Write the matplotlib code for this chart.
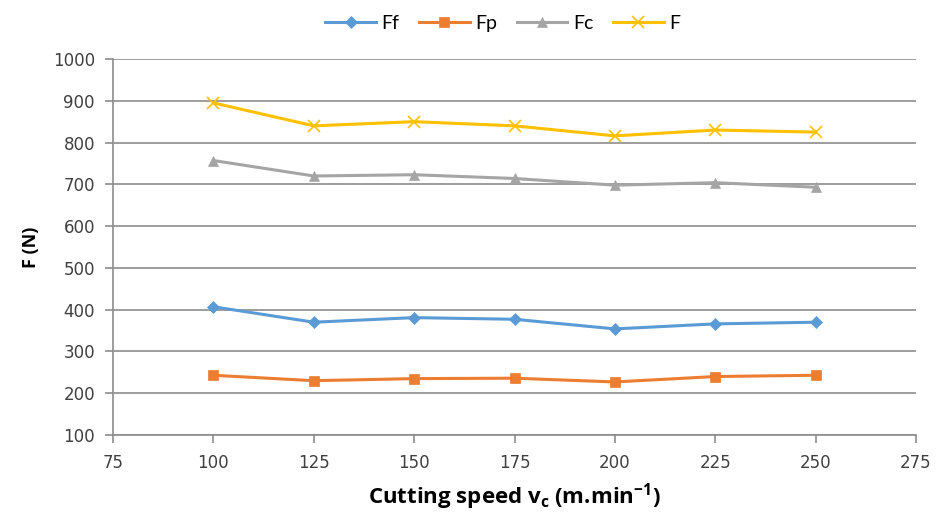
import matplotlib
matplotlib.use("Agg")
import matplotlib.pyplot as plt

# Datos
velocidad = [100, 125, 150, 175, 200, 225, 250]
ff = [407, 370, 381, 377, 354, 366, 370]
fp = [243, 230, 235, 236, 227, 240, 243]
fc = [757, 720, 723, 714, 698, 704, 693]
f_total = [895, 840, 850, 840, 816, 830, 825]

series = [
    ("Ff", ff, "#5b9bd5", "D", 6),
    ("Fp", fp, "#ed7d31", "s", 7),
    ("Fc", fc, "#a5a5a5", "^", 7),
    ("F", f_total, "#ffc000", "x", 8),
]

plt.rcParams["font.family"] = ["DejaVu Sans"]
plt.rcParams["mathtext.fontset"] = "custom"
plt.rcParams["mathtext.rm"] = "Open Sans:bold"
plt.rcParams["mathtext.default"] = "rm"

fig = plt.figure(figsize=(9.4, 5.18), dpi=100)
ax = fig.add_axes([0.1202, 0.1602, 0.8543, 0.7259])

for nombre, valores, color, marcador, tam in series:
    ax.plot(velocidad, valores, color=color, linewidth=2.2, marker=marcador,
            markersize=tam, markeredgewidth=1.2 if marcador == "x" else 0.5,
            markeredgecolor=color, label=nombre, zorder=3)

ax.set_xlim(75, 275)
ax.set_ylim(100, 1000)
ax.set_xticks(range(75, 276, 25))
ax.set_yticks(range(100, 1001, 100))
ax.yaxis.grid(True, color="#8c8c8c", linewidth=1.2)
ax.set_axisbelow(True)

for lado in ["top", "right"]:
    ax.spines[lado].set_visible(False)
for lado in ["left", "bottom"]:
    ax.spines[lado].set_color("#8c8c8c")
    ax.spines[lado].set_linewidth(1.2)

ax.tick_params(axis="both", colors="#8c8c8c", labelcolor="#404040",
               labelsize=12, length=6, width=1.2, direction="out")
ax.tick_params(axis="y", pad=7)
ax.tick_params(axis="x", pad=8)

ax.set_xlabel("Cutting speed v$_{c}$ (m.min$^{-1}$)",
              fontsize=16, fontweight="bold", family="Open Sans", labelpad=6)
ax.set_ylabel("F (N)", fontsize=13, fontweight="bold", family="Open Sans",
              labelpad=9)

fig.legend(loc="upper center", bbox_to_anchor=(0.535, 1.005), ncol=4,
           frameon=False, prop={"family": "Lato", "size": 14},
           handlelength=2.6, columnspacing=1.0, handletextpad=0.3)

fig.savefig("out.png", dpi=100, facecolor="white")
